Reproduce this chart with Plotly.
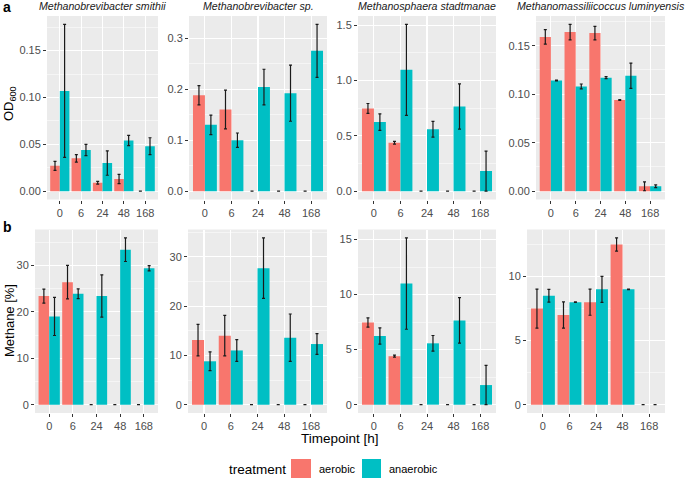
import plotly.graph_objects as go

W, H = 685, 479

timepoints = ["0", "6", "24", "48", "168"]
species = ["Methanobrevibacter smithii", "Methanobrevibacter sp.",
           "Methanosphaera stadtmanae", "Methanomassiliicoccus luminyensis"]

# ---- Panel a: OD600 ----
od_smithii_aer = [0.027, 0.035, 0.009, 0.013, 0.0]
od_smithii_aer_sd = [0.0048, 0.004, 0.0015, 0.005, 0.0]
od_smithii_ana = [0.107, 0.044, 0.030, 0.054, 0.048]
od_smithii_ana_sd = [0.071, 0.006, 0.013, 0.0055, 0.009]

od_sp_aer = [0.188, 0.160, 0.0, 0.0, 0.0]
od_sp_aer_sd = [0.019, 0.038, 0.0, 0.0, 0.0]
od_sp_ana = [0.130, 0.100, 0.204, 0.192, 0.275]
od_sp_ana_sd = [0.019, 0.014, 0.035, 0.055, 0.052]

od_stad_aer = [0.747, 0.437, 0.0, 0.0, 0.0]
od_stad_aer_sd = [0.045, 0.013, 0.0, 0.0, 0.0]
od_stad_ana = [0.624, 1.096, 0.560, 0.765, 0.181]
od_stad_ana_sd = [0.075, 0.411, 0.071, 0.205, 0.180]

od_lum_aer = [0.159, 0.164, 0.163, 0.094, 0.005]
od_lum_aer_sd = [0.0075, 0.008, 0.007, 0.0004, 0.0046]
od_lum_ana = [0.114, 0.108, 0.117, 0.119, 0.005]
od_lum_ana_sd = [0.0004, 0.0025, 0.001, 0.013, 0.0014]

# ---- Panel b: Methane [%] ----
ch4_smithii_aer = [23.4, 26.4, 0.0, 0.0, 0.0]
ch4_smithii_aer_sd = [1.5, 3.6, 0.0, 0.0, 0.0]
ch4_smithii_ana = [19.0, 23.9, 23.4, 33.4, 29.4]
ch4_smithii_ana_sd = [4.1, 1.05, 4.55, 2.55, 0.55]

ch4_sp_aer = [13.1, 14.0, 0.0, 0.0, 0.0]
ch4_sp_aer_sd = [3.2, 4.1, 0.0, 0.0, 0.0]
ch4_sp_ana = [8.8, 11.0, 27.7, 13.6, 12.3]
ch4_sp_ana_sd = [1.9, 2.2, 6.15, 4.8, 2.1]

ch4_stad_aer = [7.47, 4.40, 0.0, 0.0, 0.0]
ch4_stad_aer_sd = [0.42, 0.09, 0.0, 0.0, 0.0]
ch4_stad_ana = [6.23, 11.0, 5.57, 7.65, 1.78]
ch4_stad_ana_sd = [0.74, 4.15, 0.71, 2.07, 1.78]

ch4_lum_aer = [7.5, 7.0, 8.0, 12.5, 0.0]
ch4_lum_aer_sd = [1.52, 1.02, 1.02, 0.52, 0.0]
ch4_lum_ana = [8.5, 8.0, 9.0, 9.0, 0.0]
ch4_lum_ana_sd = [0.5, 0.02, 1.02, 0.02, 0.0]

# y-axis tick steps / formats per panel
dticks = [0.05, 0.1, 0.5, 0.05, 10, 10, 5, 5]
tickfmts = [".2f", ".1f", ".1f", ".2f", "d", "d", "d", "d"]

panels = [
    (od_smithii_aer, od_smithii_aer_sd, od_smithii_ana, od_smithii_ana_sd),
    (od_sp_aer, od_sp_aer_sd, od_sp_ana, od_sp_ana_sd),
    (od_stad_aer, od_stad_aer_sd, od_stad_ana, od_stad_ana_sd),
    (od_lum_aer, od_lum_aer_sd, od_lum_ana, od_lum_ana_sd),
    (ch4_smithii_aer, ch4_smithii_aer_sd, ch4_smithii_ana, ch4_smithii_ana_sd),
    (ch4_sp_aer, ch4_sp_aer_sd, ch4_sp_ana, ch4_sp_ana_sd),
    (ch4_stad_aer, ch4_stad_aer_sd, ch4_stad_ana, ch4_stad_ana_sd),
    (ch4_lum_aer, ch4_lum_aer_sd, ch4_lum_ana, ch4_lum_ana_sd),
]

# layout in pixels
top_x = [(47, 158), (189, 327), (358, 496), (536, 665)]
bot_x = [(35, 158), (188, 327), (358, 496), (527, 665)]
top_y = (16, 199.5)
bot_y = (229.5, 413)

def px(x):
    return x / W

def py(y):
    return 1 - y / H

AER = "#F8766D"
ANA = "#00BFC4"
ERR = "#1A1A1A"

fig = go.Figure()
layout = {}
for i, (aer, aer_sd, ana, ana_sd) in enumerate(panels):
    n = i + 1
    xa = "x" if n == 1 else f"x{n}"
    ya = "y" if n == 1 else f"y{n}"
    for vals, sd, col, name in [(aer, aer_sd, AER, "aerobic"), (ana, ana_sd, ANA, "anaerobic")]:
        fig.add_trace(go.Bar(
            x=timepoints, y=vals, name=name, marker=dict(color=col, line=dict(width=0)),
            error_y=dict(type="data", array=sd, visible=True, color=ERR, thickness=1.2, width=1.5),
            xaxis=xa, yaxis=ya, showlegend=False,
        ))
    lows = [v - s for v, s in zip(aer + ana, aer_sd + ana_sd)]
    highs = [v + s for v, s in zip(aer + ana, aer_sd + ana_sd)]
    lo = min(0, min(lows))
    hi = max(highs)
    span = hi - lo
    yr = [lo - 0.05 * span, hi + 0.05 * span]
    xd = top_x[i] if i < 4 else bot_x[i - 4]
    yd = top_y if i < 4 else bot_y
    key_x = "xaxis" if n == 1 else f"xaxis{n}"
    key_y = "yaxis" if n == 1 else f"yaxis{n}"
    layout[key_x] = dict(
        domain=[px(xd[0]), px(xd[1])], anchor=ya, type="category",
        categoryorder="array", categoryarray=timepoints,
        range=[-0.6, 4.6], showgrid=True, gridcolor="white", gridwidth=1.1,
        ticks="outside", ticklen=3, tickcolor="#333333", tickwidth=1,
        tickfont=dict(family="Liberation Sans, Arial", size=11, color="#4D4D4D"),
        showline=False, zeroline=False, fixedrange=True,
    )
    layout[key_y] = dict(
        domain=[py(yd[1]), py(yd[0])], anchor=xa, range=yr,
        tick0=0, dtick=dticks[i], tickformat=tickfmts[i],
        showgrid=True, gridcolor="white", gridwidth=1.1,
        minor=dict(dtick=dticks[i] / 2, tick0=0, showgrid=True, gridcolor="white", gridwidth=0.5, ticks=""),
        ticks="outside", ticklen=3, tickcolor="#333333", tickwidth=1,
        tickfont=dict(family="Liberation Sans, Arial", size=11, color="#4D4D4D"),
        showline=False, zeroline=False, fixedrange=True,
    )

annotations = []
FONT = "Liberation Sans, Arial"
for i, sp in enumerate(species):
    xc = (top_x[i][0] + top_x[i][1]) / 2
    annotations.append(dict(text=f"<i>{sp}</i>", x=px(xc), y=py(6), xref="paper", yref="paper",
                            showarrow=False, xanchor="center", yanchor="middle",
                            font=dict(family=FONT, size=10.6, color="#1A1A1A")))
annotations += [
    dict(text="<b>a</b>", x=px(1), y=py(6.5), xref="paper", yref="paper", showarrow=False,
         xanchor="left", yanchor="middle", font=dict(family=FONT, size=14, color="black")),
    dict(text="<b>b</b>", x=px(1), y=py(227), xref="paper", yref="paper", showarrow=False,
         xanchor="left", yanchor="middle", font=dict(family=FONT, size=14, color="black")),
    dict(text="OD<sub>600</sub>", x=px(9), y=py(104), xref="paper", yref="paper", showarrow=False,
         textangle=-90, xanchor="center", yanchor="middle", font=dict(family=FONT, size=13, color="black")),
    dict(text="Methane [%]", x=px(9), y=py(321), xref="paper", yref="paper", showarrow=False,
         textangle=-90, xanchor="center", yanchor="middle", font=dict(family=FONT, size=13, color="black")),
    dict(text="Timepoint [h]", x=px(340), y=py(438), xref="paper", yref="paper", showarrow=False,
         xanchor="center", yanchor="middle", font=dict(family=FONT, size=13.5, color="black")),
    dict(text="treatment", x=px(227), y=py(469), xref="paper", yref="paper", showarrow=False,
         xanchor="left", yanchor="middle", font=dict(family=FONT, size=13.5, color="black")),
    dict(text="aerobic", x=px(317), y=py(469), xref="paper", yref="paper", showarrow=False,
         xanchor="left", yanchor="middle", font=dict(family=FONT, size=11, color="black")),
    dict(text="anaerobic", x=px(387), y=py(469), xref="paper", yref="paper", showarrow=False,
         xanchor="left", yanchor="middle", font=dict(family=FONT, size=11, color="black")),
]

shapes = [
    dict(type="rect", xref="paper", yref="paper", x0=px(291), x1=px(311), y0=py(478), y1=py(459),
         fillcolor=AER, line=dict(width=0)),
    dict(type="rect", xref="paper", yref="paper", x0=px(362), x1=px(381), y0=py(478), y1=py(459),
         fillcolor=ANA, line=dict(width=0)),
]

fig.update_layout(
    width=W, height=H, margin=dict(l=0, r=0, t=0, b=0),
    paper_bgcolor="white", plot_bgcolor="#EBEBEB",
    barmode="group", bargap=0.1, bargroupgap=0,
    annotations=annotations, shapes=shapes, showlegend=False,
    font=dict(family=FONT),
    **layout,
)

fig.write_html("out.html",
               config={"displayModeBar": False, "staticPlot": True},
               post_script="document.body.style.margin='0';document.body.style.padding='0';"
                           "document.body.style.overflow='hidden';")
